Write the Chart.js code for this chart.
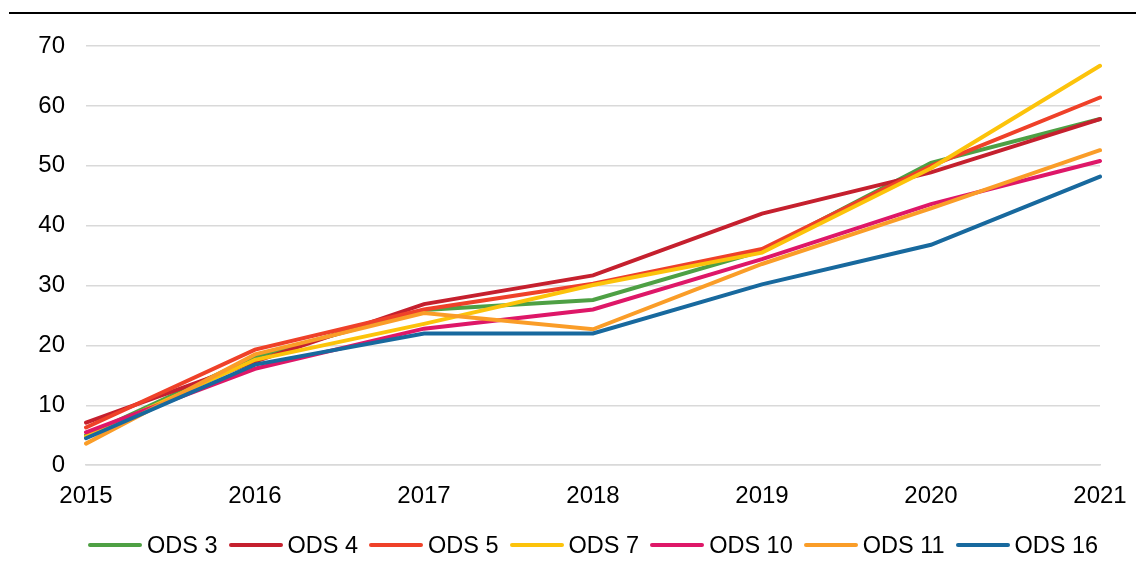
<!DOCTYPE html>
<html>
<head>
<meta charset="utf-8">
<script src="https://cdn.jsdelivr.net/npm/chart.js@4"></script>
<style>
html,body{margin:0;padding:0;background:#fff;}
#wrap{position:absolute;left:0;top:0;width:1136px;height:574px;}
#rule{position:absolute;left:9px;top:12px;width:1127px;height:2px;background:#000;}
#legend{position:absolute;left:88px;top:531px;height:28px;display:flex;align-items:center;
  font-family:"Liberation Sans", Arial, sans-serif;font-size:23.5px;line-height:28px;color:#000;white-space:nowrap;}
.item{display:flex;align-items:center;margin-right:11px;}
.sw{display:inline-block;width:54px;height:4px;border-radius:2px;margin-right:5px;}
</style>
</head>
<body>
<div id="wrap"><canvas id="c" width="1136" height="574"></canvas></div>
<div id="rule"></div>
<div id="legend"></div>
<script>
const years = ['2015','2016','2017','2018','2019','2020','2021'];
const seriesNames = ['ODS 3','ODS 4','ODS 5','ODS 7','ODS 10','ODS 11','ODS 16'];
const ods3  = [5.0, 18.1, 25.9, 27.6, 35.8, 50.5, 57.8];
const ods4  = [7.1, 17.3, 26.9, 31.7, 42.0, 48.9, 57.8];
const ods5  = [6.3, 19.3, 26.0, 30.3, 36.1, 50.0, 61.4];
const ods7  = [4.8, 17.6, 23.6, 30.1, 35.5, 49.6, 66.7];
const ods10 = [5.5, 16.1, 22.8, 26.0, 34.4, 43.6, 50.8];
const ods11 = [3.6, 18.5, 25.4, 22.7, 33.6, 42.9, 52.6];
const ods16 = [4.5, 16.8, 22.0, 22.0, 30.2, 36.8, 48.2];
const yTicks = [0,10,20,30,40,50,60,70];
const colors = ['#4EA044','#C5202E','#EF4129','#FCC30B','#DE1768','#FA9D28','#18699E'];
const allSeries = [ods3, ods4, ods5, ods7, ods10, ods11, ods16];

const datasets = allSeries.map((d,i)=>({
  label: seriesNames[i],
  data: d,
  borderColor: colors[i],
  backgroundColor: colors[i],
  borderWidth: 4,
  pointRadius: 0,
  pointHoverRadius: 0,
  tension: 0,
  fill: false,
  borderCapStyle: 'round',
  order: allSeries.length - i
}));

const FONT = {family: '"Liberation Sans", Arial, sans-serif', size: 24};

const chart = new Chart(document.getElementById('c'), {
  type: 'line',
  data: {labels: years, datasets},
  options: {
    responsive: false,
    animation: false,
    devicePixelRatio: 1,
    layout: {padding: {left: 0, right: 36, top: 46, bottom: 46}},
    plugins: {
      tooltip: {enabled: false},
      legend: {display: false}
    },
    scales: {
      x: {
        offset: false,
        afterFit(scale){ scale.paddingLeft = 0; scale.paddingRight = 0; },
        grid: {display: false, drawTicks: false},
        border: {display: true, color: '#d9d9d9', width: 1.5},
        ticks: {font: FONT, color: '#000', padding: 17, maxRotation: 0, autoSkip: false}
      },
      y: {
        min: 0, max: 70,
        afterBuildTicks(scale){ scale.ticks = yTicks.map(v=>({value:v})); },
        afterFit(scale){ scale.width = 86; scale.paddingTop = 0; scale.paddingBottom = 0; },
        grid: {color: '#d9d9d9', lineWidth: 1.5, drawTicks: false},
        border: {display: false},
        ticks: {font: FONT, color: '#000', padding: 21}
      }
    }
  }
});

// HTML legend built from the chart's datasets
const legend = document.getElementById('legend');
chart.data.datasets.forEach(ds=>{
  const it = document.createElement('div'); it.className='item';
  const sw = document.createElement('span'); sw.className='sw'; sw.style.background = ds.borderColor;
  const tx = document.createElement('span'); tx.textContent = ds.label;
  it.appendChild(sw); it.appendChild(tx); legend.appendChild(it);
});
</script>
</body>
</html>
